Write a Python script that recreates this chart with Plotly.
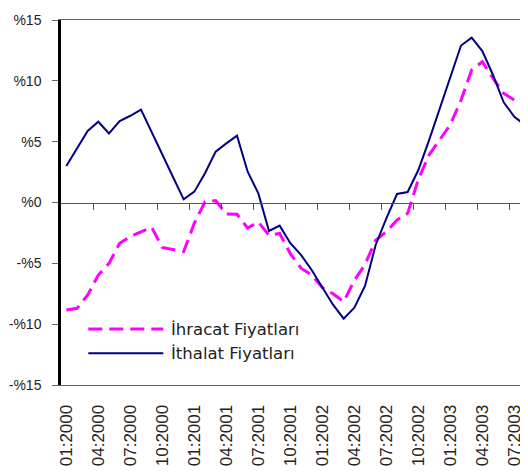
import plotly.graph_objects as go

months = [
    "01:2000", "02:2000", "03:2000", "04:2000", "05:2000", "06:2000", "07:2000", "08:2000",
    "09:2000", "10:2000", "11:2000", "12:2000",
    "01:2001", "02:2001", "03:2001", "04:2001", "05:2001", "06:2001", "07:2001", "08:2001",
    "09:2001", "10:2001", "11:2001", "12:2001",
    "01:2002", "02:2002", "03:2002", "04:2002", "05:2002", "06:2002", "07:2002", "08:2002",
    "09:2002", "10:2002", "11:2002", "12:2002",
    "01:2003", "02:2003", "03:2003", "04:2003", "05:2003", "06:2003", "07:2003", "08:2003",
]

ihracat = [
    -8.83, -8.70, -7.6, -5.96, -5.0, -3.35, -2.8, -2.45, -2.04, -3.7, -3.85, -4.04,
    -1.7, 0.05, 0.15, -0.95, -0.97, -2.1, -1.6, -2.7, -2.55, -4.2, -5.4, -5.96,
    -7.0, -7.5, -8.15, -6.4, -5.1, -3.1, -2.4, -1.44, -0.89, 1.9, 3.9, 5.1,
    6.4, 8.4, 10.9, 11.57, 10.2, 8.97, 8.42, 8.5,
]

ithalat = [
    3.0, 4.45, 5.88, 6.64, 5.68, 6.70, 7.13, 7.63, 5.75, 3.9, 2.1, 0.26,
    0.89, 2.4, 4.18, 4.86, 5.49, 2.53, 0.75, -2.34, -1.9, -3.35, -4.3, -5.55,
    -7.0, -8.4, -9.55, -8.64, -6.86, -3.49, -1.3, 0.70, 0.86, 2.67, 5.1, 7.75,
    10.37, 12.9, 13.55, 12.45, 10.48, 8.23, 7.05, 6.37,
]

x_tick_labels = months[::3]
y_tick_vals = [-15, -10, -5, 0, 5, 10, 15]
y_tick_text = ["-%15", "-%10", "-%5", "%0", "%5", "%10", "%15"]

series_names = ["İhracat Fiyatları", "İthalat Fiyatları"]
colors = ["#FF00FF", "#000080"]

n = len(months)
x_range = [-0.5, n - 0.72]

fig = go.Figure()
fig.add_trace(go.Scatter(
    x=months, y=ihracat, mode="lines", name=series_names[0],
    line=dict(color=colors[0], width=3, dash="14px,7px"), showlegend=False,
))
fig.add_trace(go.Scatter(
    x=months, y=ithalat, mode="lines", name=series_names[1],
    line=dict(color=colors[1], width=2), showlegend=False,
))
# helper trace so the zero-line axis is drawn
fig.add_trace(go.Scatter(
    x=[0], y=[0], xaxis="x2", mode="markers", marker=dict(opacity=0),
    hoverinfo="skip", showlegend=False,
))

# the page body adds an 8px offset, so margins compensate for it
fig.update_layout(
    width=528, height=475,
    margin=dict(l=53, r=8, t=12, b=98, autoexpand=False),
    paper_bgcolor="white", plot_bgcolor="white",
    xaxis=dict(
        type="category", categoryorder="array", categoryarray=months,
        range=x_range, automargin=False,
        tickvals=x_tick_labels, ticktext=x_tick_labels,
        tickangle=-90, ticks="outside", ticklen=12, tickcolor="rgba(0,0,0,0)",
        tickfont=dict(family="Liberation Sans, Arial", size=17, color="#222"),
        showline=True, linecolor="#666", linewidth=1, mirror=True,
        showgrid=False, zeroline=False,
    ),
    xaxis2=dict(
        overlaying="x", anchor="free", position=0.5,
        range=x_range, automargin=False,
        tickvals=[i - 0.5 for i in range(3, n, 3)],
        ticks="outside", ticklen=6, tickcolor="#555", tickwidth=1,
        showticklabels=False, showline=True, linecolor="#555", linewidth=1,
        showgrid=False, zeroline=False,
    ),
    yaxis=dict(
        range=[-15, 15], tickvals=y_tick_vals, ticktext=y_tick_text,
        automargin=False,
        ticks="outside", ticklen=6, tickcolor="#666",
        ticklabelstandoff=8,
        tickfont=dict(family="Liberation Sans, Arial", size=14, color="#222"),
        showline=True, linecolor="black", linewidth=2.5,
        showgrid=False, zeroline=False,
    ),
    showlegend=False,
)

# manual legend (line samples + text)
legend_rows = [0.1534, 0.0868]
dashes = ["14px,7px", "solid"]
widths = [3, 2]
for i in range(2):
    fig.add_shape(type="line", xref="paper", yref="paper",
                  x0=0.0585, x1=0.219, y0=legend_rows[i], y1=legend_rows[i],
                  line=dict(color=colors[i], width=widths[i], dash=dashes[i]))
    fig.add_annotation(xref="paper", yref="paper", x=0.232, y=legend_rows[i],
                       text=series_names[i], showarrow=False,
                       xanchor="left", yanchor="middle",
                       font=dict(family="DejaVu Sans", size=16.5, color="#222"))

fig.write_html("out.html")
